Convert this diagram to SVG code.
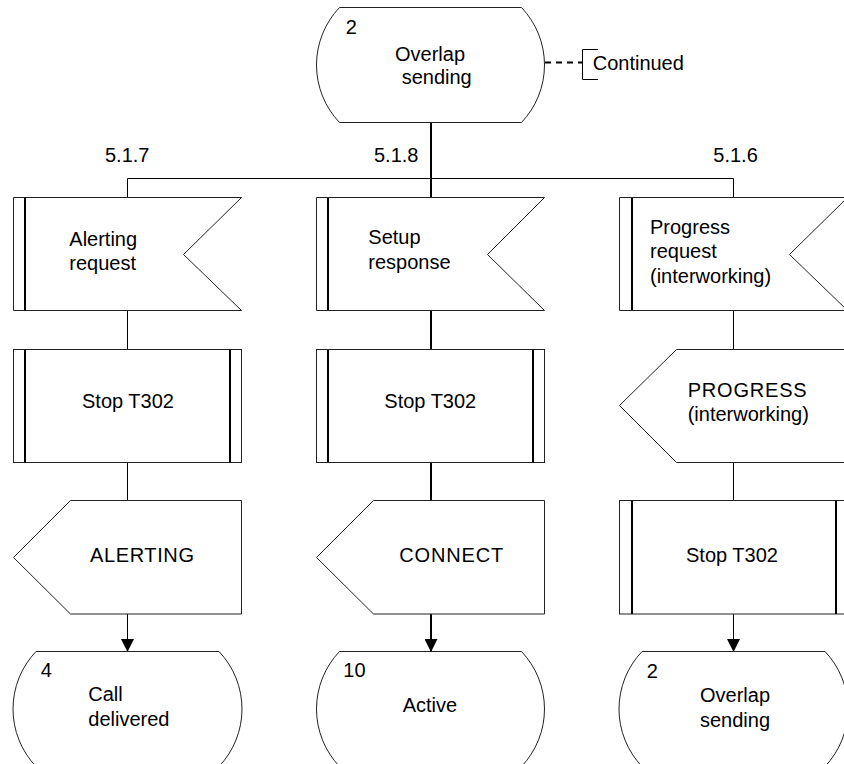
<svg xmlns="http://www.w3.org/2000/svg" width="844" height="764" viewBox="0 0 844 764">
<defs>
<style>
.s{fill:#fff;stroke:#222;stroke-width:1}
.dbl{stroke:#000;stroke-width:2;fill:none}
.c{stroke:#000;stroke-width:1;fill:none}
.c2{stroke:#000;stroke-width:2;fill:none}
text{font-family:"Liberation Sans",Arial,sans-serif;font-size:20px;fill:#000}
</style>
<marker id="ah" markerUnits="userSpaceOnUse" markerWidth="14" markerHeight="13" refX="13" refY="6.5" orient="auto">
<path d="M0,0 L13,6.5 L0,13 Z" fill="#000"/>
</marker>
</defs>
<rect width="844" height="764" fill="#fff"/>

<g id="connectors">
<line class="c2" x1="431" y1="122" x2="431" y2="178.5"/>
<line class="c" x1="127.5" y1="178.5" x2="733.5" y2="178.5"/>
<line class="c" x1="127.5" y1="178.5" x2="127.5" y2="197.5"/>
<line class="c2" x1="431" y1="178.5" x2="431" y2="197.5"/>
<line class="c" x1="733.5" y1="178.5" x2="733.5" y2="197.5"/>
<line class="c" x1="127.5" y1="310.5" x2="127.5" y2="349.5"/>
<line class="c2" x1="431" y1="310.5" x2="431" y2="349.5"/>
<line class="c" x1="733.5" y1="310.5" x2="733.5" y2="349.5"/>
<line class="c" x1="127.5" y1="462.5" x2="127.5" y2="500.5"/>
<line class="c2" x1="431" y1="462.5" x2="431" y2="500.5"/>
<line class="c" x1="733.5" y1="462.5" x2="733.5" y2="500.5"/>
<line class="c" x1="127.5" y1="614" x2="127.5" y2="652" marker-end="url(#ah)"/>
<line class="c2" x1="431" y1="614" x2="431" y2="652" marker-end="url(#ah)"/>
<line class="c" x1="733.5" y1="614" x2="733.5" y2="652" marker-end="url(#ah)"/>
<line x1="545" y1="62.5" x2="582" y2="62.5" stroke="#000" stroke-width="2" stroke-dasharray="6 5"/>
</g>

<g id="state-top">
<path class="s" d="M339.5,7.5 H521.5 A83.4,83.4 0 0 1 521.5,122.5 H339.5 A83.4,83.4 0 0 1 339.5,7.5 Z"/>
<text x="345.7" y="34">2</text>
<text x="395" y="60.5">Overlap</text>
<text x="401.7" y="84">sending</text>
</g>

<g id="comment-continued">
<path class="c" d="M598,49.5 H582.5 V79.5 H598"/>
<text x="592.7" y="70">Continued</text>
</g>

<g id="labels">
<text x="105" y="161.7">5.1.7</text>
<text x="374" y="162">5.1.8</text>
<text x="713.3" y="161.7">5.1.6</text>
</g>

<g id="in-alerting-request">
<path class="s" d="M13.5,197.5 H241.5 L183.5,254.5 L241.5,310.5 H13.5 Z"/>
<line class="dbl" x1="25" y1="197.5" x2="25" y2="310.5"/>
<text x="69.3" y="245.7">Alerting</text>
<text x="69.3" y="269.5">request</text>
</g>

<g id="in-setup-response">
<path class="s" d="M316.5,197.5 H544.5 L487.5,254.5 L544.5,310.5 H316.5 Z"/>
<line class="dbl" x1="328" y1="197.5" x2="328" y2="310.5"/>
<text x="368.3" y="244">Setup</text>
<text x="368.3" y="269">response</text>
</g>

<g id="in-progress-request">
<path class="s" d="M619.5,197.5 H847.5 L789.5,254.5 L847.5,310.5 H619.5 Z"/>
<line class="dbl" x1="632" y1="197.5" x2="632" y2="310.5"/>
<text x="650" y="233.5">Progress</text>
<text x="650" y="258">request</text>
<text x="650" y="282.5">(interworking)</text>
</g>

<g id="task-stop-t302-1">
<rect class="s" x="13.5" y="349.5" width="228" height="113"/>
<line class="dbl" x1="25" y1="349.5" x2="25" y2="462.5"/>
<line class="dbl" x1="230" y1="349.5" x2="230" y2="462.5"/>
<text x="82" y="407.7">Stop T302</text>
</g>

<g id="task-stop-t302-2">
<rect class="s" x="316.5" y="349.5" width="228" height="113"/>
<line class="dbl" x1="328" y1="349.5" x2="328" y2="462.5"/>
<line class="dbl" x1="533" y1="349.5" x2="533" y2="462.5"/>
<text x="384.3" y="408">Stop T302</text>
</g>

<g id="out-progress">
<path class="s" d="M676.5,349.5 H847.5 V462.5 H676.5 L619.5,405.5 Z"/>
<text x="687.7" y="397.3" textLength="119" lengthAdjust="spacing">PROGRESS</text>
<text x="687.7" y="421">(interworking)</text>
</g>

<g id="out-alerting">
<path class="s" d="M70.5,500.5 H241.5 V614 H70.5 L13.5,557.5 Z"/>
<text x="90" y="561.7" textLength="104" lengthAdjust="spacing">ALERTING</text>
</g>

<g id="out-connect">
<path class="s" d="M373.5,500.5 H544.5 V614 H373.5 L316.5,557.5 Z"/>
<text x="399.3" y="561.7" textLength="104" lengthAdjust="spacing">CONNECT</text>
</g>

<g id="task-stop-t302-3">
<rect class="s" x="619.5" y="500.5" width="228" height="113.5"/>
<line class="dbl" x1="632" y1="500.5" x2="632" y2="614"/>
<line class="dbl" x1="836" y1="500.5" x2="836" y2="614"/>
<text x="686" y="561.7">Stop T302</text>
</g>

<g id="state-4">
<path class="s" d="M36,651.5 H219 A83.4,83.4 0 0 1 219,766.5 H36 A83.4,83.4 0 0 1 36,651.5 Z"/>
<text x="40.7" y="676.7">4</text>
<text x="88.3" y="700.7">Call</text>
<text x="88.3" y="725.7">delivered</text>
</g>

<g id="state-10">
<path class="s" d="M339.5,651.5 H521.5 A83.4,83.4 0 0 1 521.5,766.5 H339.5 A83.4,83.4 0 0 1 339.5,651.5 Z"/>
<text x="343.3" y="676.7">10</text>
<text x="402.7" y="711.7">Active</text>
</g>

<g id="state-2-bottom">
<path class="s" d="M642,651.5 H825 A83.4,83.4 0 0 1 825,766.5 H642 A83.4,83.4 0 0 1 642,651.5 Z"/>
<text x="646.7" y="678.3">2</text>
<text x="700" y="702.3">Overlap</text>
<text x="700" y="726.5">sending</text>
</g>
</svg>
